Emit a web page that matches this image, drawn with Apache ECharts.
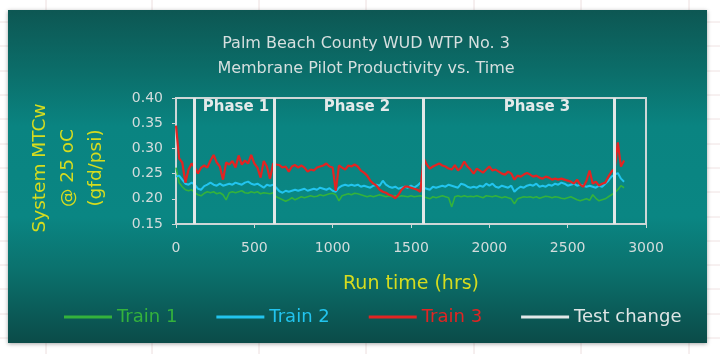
<!DOCTYPE html>
<html>
<head>
<meta charset="utf-8">
<script src="https://cdn.jsdelivr.net/npm/echarts@6/dist/echarts.min.js"></script>
<style>
html,body{margin:0;padding:0;background:#ffffff;}
#c{width:720px;height:354px;}
</style>
</head>
<body>
<div id="c"></div>
<script>
// ---- data ----
var hours = [
  0,20,40,60,80,100,120,140,160,180,
  200,220,240,260,280,300,320,340,360,380,
  400,420,440,460,480,500,520,540,560,580,
  600,620,640,660,680,700,720,740,760,780,
  800,820,840,860,880,900,920,940,960,980,
  1000,1020,1040,1060,1080,1100,1120,1140,1160,1180,
  1200,1220,1240,1260,1280,1300,1320,1340,1360,1380,
  1400,1420,1440,1460,1480,1500,1520,1540,1560,1580,
  1600,1620,1640,1660,1680,1700,1720,1740,1760,1780,
  1800,1820,1840,1860,1880,1900,1920,1940,1960,1980,
  2000,2020,2040,2060,2080,2100,2120,2140,2160,2180,
  2200,2220,2240,2260,2280,2300,2320,2340,2360,2380,
  2400,2420,2440,2460,2480,2500,2520,2540,2560,2580,
  2600,2620,2640,2660,2680,2700,2720,2740,2760,2780,
  2800,2820,2840,2860
];
var train1 = [
  0.262,0.232,0.224,0.218,0.216,0.218,0.212,0.208,0.206,0.211,
  0.214,0.212,0.214,0.210,0.212,0.208,0.198,0.212,0.214,0.212,
  0.214,0.216,0.212,0.211,0.214,0.212,0.214,0.210,0.212,0.211,
  0.210,0.212,0.204,0.201,0.198,0.195,0.198,0.202,0.198,0.201,
  0.204,0.202,0.204,0.206,0.204,0.205,0.208,0.206,0.208,0.210,
  0.211,0.208,0.196,0.206,0.208,0.210,0.208,0.211,0.210,0.208,
  0.206,0.204,0.206,0.204,0.206,0.208,0.206,0.204,0.206,0.204,
  0.206,0.204,0.206,0.205,0.204,0.206,0.204,0.205,0.206,0.204,
  0.202,0.200,0.204,0.202,0.204,0.206,0.204,0.202,0.184,0.204,
  0.206,0.204,0.206,0.204,0.205,0.204,0.206,0.204,0.202,0.206,
  0.205,0.204,0.206,0.204,0.202,0.204,0.202,0.200,0.190,0.200,
  0.202,0.204,0.203,0.204,0.202,0.204,0.201,0.203,0.205,0.204,
  0.202,0.204,0.203,0.201,0.200,0.202,0.204,0.201,0.198,0.196,
  0.198,0.200,0.197,0.208,0.201,0.196,0.198,0.200,0.204,0.208,
  0.212,0.218,0.226,0.222
];
var train2 = [
  0.244,0.246,0.238,0.230,0.228,0.232,0.228,0.220,0.218,0.225,
  0.228,0.232,0.228,0.226,0.230,0.226,0.228,0.230,0.228,0.232,
  0.230,0.228,0.232,0.234,0.230,0.228,0.230,0.226,0.222,0.228,
  0.226,0.228,0.222,0.215,0.212,0.216,0.214,0.216,0.218,0.216,
  0.218,0.220,0.216,0.218,0.220,0.218,0.222,0.220,0.218,0.221,
  0.216,0.214,0.222,0.226,0.228,0.226,0.228,0.226,0.228,0.224,
  0.226,0.224,0.222,0.226,0.228,0.226,0.236,0.228,0.224,0.222,
  0.224,0.220,0.222,0.224,0.222,0.226,0.222,0.226,0.232,0.222,
  0.220,0.218,0.224,0.222,0.224,0.226,0.224,0.228,0.226,0.224,
  0.222,0.230,0.228,0.224,0.222,0.224,0.222,0.226,0.224,0.230,
  0.226,0.230,0.224,0.222,0.226,0.224,0.222,0.226,0.214,0.220,
  0.224,0.222,0.226,0.228,0.226,0.230,0.224,0.226,0.224,0.228,
  0.226,0.230,0.228,0.232,0.230,0.226,0.228,0.230,0.226,0.228,
  0.226,0.224,0.226,0.224,0.222,0.226,0.224,0.230,0.236,0.244,
  0.248,0.251,0.240,0.234
];
var train3 = [
  0.345,0.280,0.272,0.232,0.258,0.270,0.262,0.250,0.262,0.266,
  0.262,0.276,0.287,0.272,0.264,0.238,0.272,0.268,0.275,0.262,
  0.286,0.268,0.276,0.270,0.287,0.270,0.262,0.242,0.275,0.264,
  0.240,0.270,0.268,0.267,0.262,0.264,0.254,0.264,0.267,0.262,
  0.266,0.262,0.254,0.258,0.256,0.262,0.264,0.266,0.270,0.264,
  0.262,0.216,0.266,0.262,0.258,0.266,0.264,0.268,0.264,0.256,
  0.252,0.246,0.236,0.230,0.226,0.218,0.214,0.212,0.208,0.206,
  0.201,0.208,0.218,0.224,0.224,0.222,0.220,0.218,0.214,0.281,
  0.268,0.260,0.264,0.267,0.270,0.266,0.264,0.260,0.258,0.267,
  0.256,0.262,0.274,0.264,0.258,0.250,0.260,0.256,0.252,0.258,
  0.264,0.256,0.258,0.254,0.250,0.248,0.254,0.250,0.238,0.246,
  0.244,0.248,0.251,0.248,0.244,0.246,0.242,0.240,0.244,0.242,
  0.238,0.240,0.238,0.240,0.238,0.236,0.234,0.230,0.238,0.228,
  0.224,0.236,0.256,0.230,0.234,0.226,0.230,0.232,0.244,0.254,
  0.260,0.312,0.264,0.276
];
var testChangeHours = [115, 630, 1575, 2800];
var phaseNames = ['Phase 1', 'Phase 2', 'Phase 3'];
var phaseCenterHours = [383, 1155, 2304];
var phaseLabelLevel = 0.381;
var seriesNames = ['Train 1', 'Train 2', 'Train 3', 'Test change'];
var xTicks = [0, 500, 1000, 1500, 2000, 2500, 3000];
var yTicks = [0.15, 0.20, 0.25, 0.30, 0.35, 0.40];
var titleLines = ['Palm Beach County WUD WTP No. 3', 'Membrane Pilot Productivity vs. Time'];
var yNameLines = ['System MTCw', '@ 25 oC', '(gfd/psi)'];
var xName = 'Run time (hrs)';

// ---- styles ----
var colors = ['#34b23c', '#22c4ee', '#e32422', '#e2e8e8'];
var widths = [1.6, 2, 2.2, 3];
var tickColor = '#d3dcdc';
var yellow = '#d6dc1e';
var FONT = '"DejaVu Sans", sans-serif';

function pairs(xs, ys) {
  var out = [];
  for (var i = 0; i < xs.length && i < ys.length; i++) out.push([xs[i], ys[i]]);
  return out;
}

var chart = echarts.init(document.getElementById('c'), null, {renderer: 'canvas'});

var sheetLines = [];
[46, 152, 259, 366, 474, 581, 689].forEach(function (x) {
  sheetLines.push({type: 'line', shape: {x1: x, y1: 0, x2: x, y2: 354}, style: {stroke: '#ecdede', lineWidth: 1}, z: -20});
});
[22, 46, 71, 95, 119, 144, 168, 192, 217, 241, 265, 289, 314, 338].forEach(function (y) {
  sheetLines.push({type: 'line', shape: {x1: 0, y1: y, x2: 720, y2: y}, style: {stroke: '#efe2e2', lineWidth: 1}, z: -20});
});

var graphics = sheetLines.concat([
  {
    type: 'rect', z: -10,
    shape: {x: 8, y: 10, width: 699, height: 333},
    style: {
      fill: new echarts.graphic.LinearGradient(0, 0, 0, 1, [
        {offset: 0, color: '#0d5753'},
        {offset: 0.18, color: '#0b6d69'},
        {offset: 0.35, color: '#0a8481'},
        {offset: 0.62, color: '#0a8683'},
        {offset: 0.78, color: '#0b716d'},
        {offset: 1, color: '#0b4b48'}
      ]),
      shadowBlur: 4, shadowColor: 'rgba(0,0,0,0.35)', shadowOffsetY: 1
    }
  },
  {
    type: 'text', z: 10,
    x: 68, y: 168, rotation: Math.PI / 2,
    style: {
      text: yNameLines.join('\n'),
      fill: yellow, font: '18.5px ' + FONT,
      align: 'center', verticalAlign: 'middle', lineHeight: 28
    }
  }
]);

var lineSeries = [train1, train2, train3].map(function (vals, i) {
  return {
    name: seriesNames[i], type: 'line', showSymbol: false, symbol: 'none',
    data: pairs(hours, vals),
    lineStyle: {color: colors[i], width: widths[i]},
    itemStyle: {color: colors[i]},
    z: 2 + i, silent: true, animation: false
  };
});

var testSeries = {
  name: seriesNames[3], type: 'line', data: [], symbol: 'none',
  lineStyle: {color: colors[3], width: 3}, itemStyle: {color: colors[3]},
  z: 6, animation: false,
  markLine: {
    silent: true, symbol: 'none', animation: false,
    label: {show: false},
    lineStyle: {color: colors[3], width: 3, type: 'solid'},
    data: testChangeHours.map(function (h) { return {xAxis: h}; })
  },
  markPoint: {
    silent: true, animation: false,
    symbol: 'rect', symbolSize: 1, itemStyle: {color: 'rgba(0,0,0,0)'},
    label: {show: true, position: 'inside', color: '#e4eaea', fontWeight: 'bold', fontSize: 15, fontFamily: 'DejaVu Sans',
      formatter: function (p) { return p.name; }},
    data: phaseNames.map(function (n, i) { return {name: n, coord: [phaseCenterHours[i], phaseLabelLevel]}; })
  }
};

chart.setOption({
  animation: false,
  backgroundColor: '#ffffff',
  graphic: graphics,
  title: {
    text: titleLines.join('\n'),
    left: 361, top: 26, textAlign: 'center',
    textStyle: {color: '#d6dfdf', fontSize: 16, fontWeight: 'normal', fontFamily: FONT, lineHeight: 25}
  },
  legend: {
    left: 64, top: 308, padding: 0, itemWidth: 48, itemHeight: 3, itemGap: 39, icon: 'rect',
    textStyle: {fontSize: 18, fontFamily: FONT},
    data: seriesNames.map(function (n, i) { return {name: n, textStyle: {color: i === 3 ? '#dfe5e5' : colors[i]}}; })
  },
  grid: {left: 176, right: 74, top: 98, bottom: 130, show: true, borderColor: '#cdd7d7', borderWidth: 2, backgroundColor: 'transparent'},
  xAxis: {
    type: 'value', min: xTicks[0], max: xTicks[xTicks.length - 1], interval: xTicks[1] - xTicks[0],
    name: xName, nameLocation: 'middle', nameGap: 51,
    nameTextStyle: {color: yellow, fontSize: 19, fontFamily: FONT},
    axisLine: {show: true, lineStyle: {color: '#cdd7d7', width: 2}},
    axisTick: {show: true, length: 4, lineStyle: {color: '#cdd7d7'}},
    axisLabel: {color: tickColor, fontSize: 14, margin: 17, fontFamily: 'DejaVu Sans',
      formatter: function (v) { return String(v); }},
    splitLine: {show: false}
  },
  yAxis: {
    type: 'value', min: yTicks[0], max: yTicks[yTicks.length - 1], interval: 0.05,
    axisLine: {show: true, lineStyle: {color: '#cdd7d7', width: 2}},
    axisTick: {show: true, length: 4, lineStyle: {color: '#cdd7d7'}},
    axisLabel: {color: tickColor, fontSize: 14, margin: 13, fontFamily: 'DejaVu Sans',
      formatter: function (v) { return v.toFixed(2); }},
    splitLine: {show: false}
  },
  series: lineSeries.concat([testSeries])
});
</script>
</body>
</html>
